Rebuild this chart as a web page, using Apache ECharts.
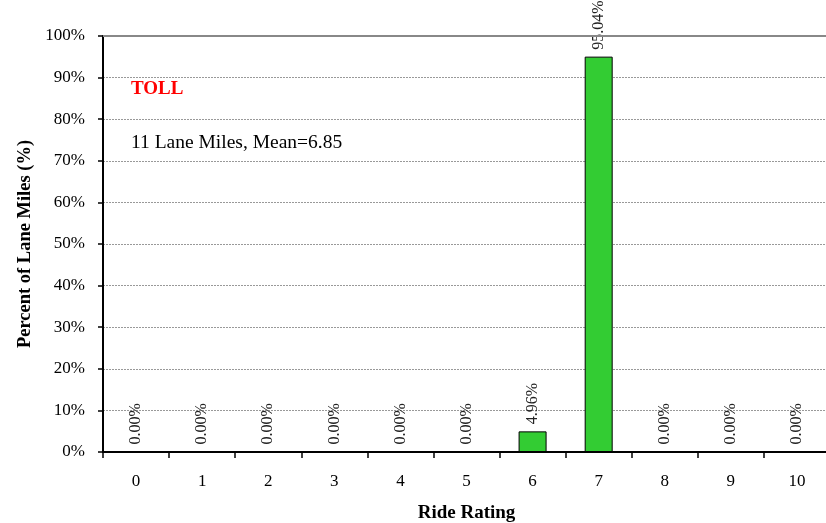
<!DOCTYPE html>
<html>
<head>
<meta charset="utf-8">
<script src="https://cdn.jsdelivr.net/npm/echarts@6/dist/echarts.min.js"></script>
<style>
  html, body { margin: 0; padding: 0; background: #fff; }
  #chart { width: 826px; height: 523px; }
</style>
</head>
<body>
<div id="chart"></div>
<script>
// ride rating categories and percent of lane miles
var ratings = ['0', '1', '2', '3', '4', '5', '6', '7', '8', '9', '10'];
var percents = [0, 0, 0, 0, 0, 0, 4.96, 95.04, 0, 0, 0];
var yTicks = [0, 10, 20, 30, 40, 50, 60, 70, 80, 90, 100];

var serif = '"Liberation Serif", "DejaVu Serif", serif';

var myChart = echarts.init(document.getElementById('chart'), null, { renderer: 'canvas' });

var option = {
    backgroundColor: '#fff',
    animation: false,
    grid: { left: 103, top: 36, width: 727, height: 416, containLabel: false, outerBoundsMode: 'none' },
    xAxis: {
        type: 'category',
        data: ratings,
        name: 'Ride Rating',
        nameLocation: 'middle',
        nameGap: 52,
        nameTextStyle: { fontFamily: serif, fontSize: 19, fontWeight: 'bold', color: '#000' },
        axisLine: { lineStyle: { color: '#000', width: 2 } },
        axisTick: { show: true, alignWithLabel: false, length: 6, lineStyle: { color: '#000', width: 1.5 } },
        axisLabel: { fontFamily: serif, fontSize: 17, color: '#000', margin: 21 },
        splitLine: { show: false }
    },
    yAxis: {
        type: 'value',
        min: yTicks[0],
        max: yTicks[yTicks.length - 1],
        interval: 10,
        name: 'Percent of Lane Miles (%)',
        nameLocation: 'middle',
        nameGap: 68,
        nameTextStyle: { fontFamily: serif, fontSize: 18.5, fontWeight: 'bold', color: '#000' },
        axisLine: { show: true, lineStyle: { color: '#000', width: 2 } },
        axisTick: { show: true, length: 5, lineStyle: { color: '#000', width: 1.5 } },
        axisLabel: {
            fontFamily: serif, fontSize: 17, color: '#000', margin: 18,
            formatter: function (v) { return v + '%'; }
        },
        splitLine: { show: true, lineStyle: { color: '#999', type: [2, 1], width: 1 } }
    },
    series: [{
        type: 'bar',
        data: percents,
        barWidth: 28,
        itemStyle: { color: '#33CC33', borderColor: '#000', borderWidth: 1 },
        label: {
            show: true,
            position: 'top',
            rotate: 90,
            align: 'left',
            verticalAlign: 'middle',
            distance: 7,
            fontFamily: serif,
            fontSize: 16,
            color: '#222',
            formatter: function (p) { return p.value.toFixed(2) + '%'; }
        },
        markLine: {
            silent: true,
            symbol: 'none',
            label: { show: false },
            lineStyle: { color: '#888', type: 'solid', width: 2 },
            data: [{ yAxis: 100 }]
        }
    }],
    graphic: [
        {
            type: 'text', left: 131, top: 80,
            style: { text: 'TOLL', fill: '#FF0000', font: 'bold 19px ' + serif }
        },
        {
            type: 'text', left: 131, top: 133,
            style: { text: '11 Lane Miles, Mean=6.85', fill: '#000', font: '19.5px ' + serif }
        }
    ]
};

myChart.setOption(option);
</script>
</body>
</html>
